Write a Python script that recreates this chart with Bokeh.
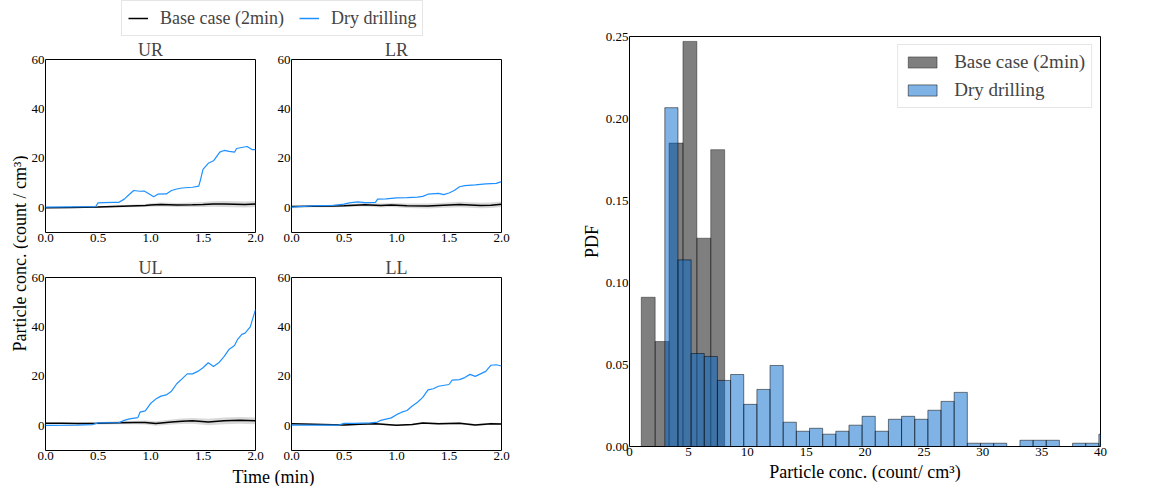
import math
from bokeh.plotting import figure
from bokeh.layouts import row, column
from bokeh.models import (Range1d, FixedTicker, PrintfTickFormatter, Legend,
                          LegendItem, Label)
from bokeh.embed import file_html
from bokeh.resources import INLINE

FONT = "Liberation Serif"
BLUE = "#1E90FF"

# ---------------- time-series data (min, count/cm3) ----------------
ur_base_t = [0, 0.25, 0.5, 0.65, 0.8, 0.95, 1.0, 1.1, 1.25, 1.4, 1.5, 1.6, 1.7, 1.8, 1.9, 2.0]
ur_base_v = [0.0, 0.1, 0.3, 0.5, 0.7, 0.9, 1.1, 1.3, 1.1, 1.2, 1.3, 1.5, 1.5, 1.4, 1.3, 1.5]
ur_base_s = [0.2, 0.2, 0.3, 0.4, 0.5, 0.6, 0.7, 0.8, 0.8, 0.9, 1.0, 1.1, 1.2, 1.2, 1.2, 1.2]
ur_dry_t = [0, 0.2, 0.45, 0.48, 0.5, 0.55, 0.65, 0.7, 0.75, 0.8, 0.84, 0.9, 0.94, 1.0, 1.03,
            1.07, 1.15, 1.2, 1.25, 1.3, 1.4, 1.46, 1.48, 1.5, 1.55, 1.6, 1.66, 1.7, 1.75,
            1.8, 1.82, 1.88, 1.92, 1.97, 2.0]
ur_dry_v = [0.3, 0.4, 0.5, 0.6, 2.0, 2.1, 2.2, 2.2, 3.5, 5.5, 7.0, 6.7, 6.8, 5.3, 4.5,
            5.5, 5.6, 7.0, 7.6, 8.0, 8.3, 8.8, 12.0, 15.5, 18.0, 19.0, 22.5, 23.2, 22.8,
            22.5, 24.0, 24.5, 24.8, 23.5, 23.5]

lr_base_t = [0, 0.2, 0.4, 0.5, 0.6, 0.7, 0.85, 0.95, 1.1, 1.3, 1.45, 1.6, 1.7, 1.8, 1.9, 2.0]
lr_base_v = [0.5, 0.6, 0.7, 0.8, 1.0, 1.2, 0.9, 1.1, 0.8, 0.7, 1.0, 1.3, 1.1, 0.9, 1.0, 1.4]
lr_base_s = [0.3, 0.4, 0.5, 0.5, 0.6, 0.7, 0.8, 0.8, 0.9, 1.0, 1.0, 1.1, 1.1, 1.1, 1.1, 1.1]
lr_dry_t = [0, 0.2, 0.4, 0.5, 0.55, 0.63, 0.7, 0.8, 0.82, 0.9, 1.0, 1.1, 1.2, 1.25, 1.3,
            1.4, 1.45, 1.5, 1.55, 1.6, 1.65, 1.75, 1.85, 1.95, 2.0]
lr_dry_v = [0.3, 0.8, 1.0, 1.5, 2.0, 2.4, 2.1, 2.2, 3.5, 3.6, 4.0, 4.1, 4.3, 4.6, 5.5,
            5.8, 5.3, 6.0, 7.0, 8.5, 9.0, 9.3, 9.7, 9.9, 10.6]

ul_base_t = [0, 0.15, 0.3, 0.5, 0.7, 0.85, 0.95, 1.05, 1.2, 1.3, 1.4, 1.55, 1.7, 1.85, 2.0]
ul_base_v = [1.0, 1.0, 0.9, 1.0, 1.2, 1.3, 1.3, 0.9, 1.5, 1.8, 2.0, 1.5, 2.0, 2.2, 2.0]
ul_base_s = [0.3, 0.3, 0.4, 0.5, 0.6, 0.7, 0.8, 0.9, 1.0, 1.1, 1.2, 1.3, 1.4, 1.4, 1.4]
ul_dry_t = [0, 0.3, 0.45, 0.5, 0.7, 0.75, 0.8, 0.88, 0.9, 0.95, 1.0, 1.05, 1.1, 1.15, 1.2,
            1.25, 1.3, 1.35, 1.4, 1.45, 1.5, 1.55, 1.6, 1.65, 1.7, 1.75, 1.8, 1.83, 1.87,
            1.9, 1.95, 2.0]
ul_dry_v = [0.2, 0.3, 0.5, 1.2, 1.3, 2.2, 2.8, 3.3, 5.5, 6.0, 9.0, 10.8, 12.0, 12.5, 14.0,
            17.0, 19.0, 21.0, 21.0, 22.0, 23.5, 25.5, 24.0, 25.5, 28.0, 31.0, 32.5, 35.0, 37.0,
            37.5, 40.0, 47.0]

ll_base_t = [0, 0.3, 0.5, 0.65, 0.8, 1.0, 1.15, 1.25, 1.4, 1.6, 1.75, 1.9, 2.0]
ll_base_v = [0.8, 0.5, 0.3, 0.6, 0.8, 0.2, 0.5, 1.1, 0.8, 1.0, 0.3, 0.8, 0.7]
ll_base_s = [0.2, 0.2, 0.2, 0.3, 0.3, 0.3, 0.3, 0.4, 0.4, 0.4, 0.4, 0.4, 0.4]
ll_dry_t = [0, 0.45, 0.5, 0.6, 0.75, 0.82, 0.85, 0.95, 1.0, 1.05, 1.1, 1.15, 1.2, 1.25,
            1.3, 1.35, 1.4, 1.5, 1.53, 1.6, 1.65, 1.7, 1.75, 1.8, 1.85, 1.9, 1.95, 2.0]
ll_dry_v = [0.3, 0.3, 1.0, 1.0, 1.2, 1.5, 2.2, 3.2, 4.5, 5.5, 6.2, 8.0, 9.5, 11.5,
            14.5, 15.0, 16.0, 16.7, 18.5, 18.7, 19.5, 20.8, 20.0, 21.0, 22.0, 24.5, 24.7, 24.2]

time_ticks = [0, 0.5, 1.0, 1.5, 2.0]
conc_ticks = [0, 20, 40, 60]

# ---------------- histogram data (PDF) ----------------
base_edges = [1.00, 2.18, 3.36, 4.54, 5.72, 6.90, 8.08]
base_pdf = [0.091, 0.064, 0.185, 0.247, 0.127, 0.181]
dry_edges = [3.000, 4.117, 5.234, 6.351, 7.468, 8.585, 9.702, 10.819, 11.936, 13.053,
             14.170, 15.287, 16.404, 17.521, 18.638, 19.755, 20.872, 21.989, 23.106,
             24.223, 25.340, 26.457, 27.574, 28.691, 29.808, 30.925, 32.042, 33.159,
             34.276, 35.393, 36.510, 37.627, 38.744, 39.861, 40.978]
dry_pdf = [0.2066, 0.1138, 0.0567, 0.0549, 0.0403, 0.0439, 0.0257, 0.0348, 0.0494,
           0.0148, 0.0093, 0.0111, 0.0075, 0.0093, 0.0130, 0.0184, 0.0093, 0.0166,
           0.0184, 0.0166, 0.0221, 0.0275, 0.0330, 0.0020, 0.0020, 0.0020, 0.0,
           0.0038, 0.0038, 0.0038, 0.0, 0.0020, 0.0020, 0.0075]
hist_x_ticks = [0, 5, 10, 15, 20, 25, 30, 35, 40]
hist_y_ticks = [0, 0.05, 0.10, 0.15, 0.20, 0.25]


def style_axes(p, tick_px="13px"):
    p.grid.visible = False
    p.outline_line_color = "black"
    p.outline_line_width = 1
    for ax in (p.xaxis[0], p.yaxis[0]):
        ax.axis_line_color = None
        ax.major_tick_line_color = None
        ax.minor_tick_line_color = None
        ax.major_tick_out = 0
        ax.major_tick_in = 0
        ax.minor_tick_out = 0
        ax.minor_tick_in = 0
        ax.major_label_standoff = 1
        ax.major_label_text_font = FONT
        ax.major_label_text_font_size = tick_px
        ax.major_label_text_color = "black"
        ax.axis_label_text_font = FONT
        ax.axis_label_text_font_style = "normal"
        ax.axis_label_text_font_size = "18px"
        ax.axis_label_text_color = "black"
        ax.axis_label_standoff = 1


def panel(title, bt, bv, bs, dt, dv, bl, br, bb):
    p = figure(frame_width=210, frame_height=173, x_range=Range1d(0, 2),
               y_range=Range1d(-10, 60), output_backend="svg", toolbar_location=None,
               min_border_left=bl, min_border_right=br, min_border_top=19,
               min_border_bottom=bb)
    p.title.text = title
    p.title.align = "center"
    p.title.text_font = FONT
    p.title.text_font_style = "normal"
    p.title.text_font_size = "18px"
    p.title.standoff = 0
    style_axes(p)
    p.xaxis.ticker = FixedTicker(ticks=time_ticks)
    p.xaxis.formatter = PrintfTickFormatter(format="%.1f")
    p.yaxis.ticker = FixedTicker(ticks=conc_ticks)
    p.yaxis.formatter = PrintfTickFormatter(format="%d")
    lo = [v - s for v, s in zip(bv, bs)]
    hi = [v + s for v, s in zip(bv, bs)]
    p.varea(x=bt, y1=lo, y2=hi, fill_color="gray", fill_alpha=0.3)
    p.line(bt, bv, line_color="black", line_width=1.5)
    p.line(dt, dv, line_color=BLUE, line_width=1.2)
    return p


ur = panel("UR", ur_base_t, ur_base_v, ur_base_s, ur_dry_t, ur_dry_v, 15, 18, 23)
lr = panel("LR", lr_base_t, lr_base_v, lr_base_s, lr_dry_t, lr_dry_v, 18, 76, 23)
ul = panel("UL", ul_base_t, ul_base_v, ul_base_s, ul_dry_t, ul_dry_v, 15, 18, 16)
ll = panel("LL", ll_base_t, ll_base_v, ll_base_s, ll_dry_t, ll_dry_v, 18, 76, 16)


def strip(w, h, yr=(0, 1)):
    s = figure(width=w, height=h, x_range=Range1d(0, 1), y_range=Range1d(*yr),
               x_axis_type=None, y_axis_type=None, output_backend="svg",
               toolbar_location=None, min_border=0)
    s.grid.visible = False
    s.outline_line_color = None
    return s


# top legend strip (series drawn out of view; only the legend is visible)
top = strip(577, 37, yr=(200, 201))
r_b = top.line(ur_base_t, ur_base_v, line_color="black", line_width=1.5)
r_d = top.line(ur_dry_t, ur_dry_v, line_color=BLUE, line_width=1.5)
leg_top = Legend(items=[LegendItem(label="Base case (2min)", renderers=[r_b]),
                        LegendItem(label="Dry drilling", renderers=[r_d])],
                 location=(121, 1), orientation="horizontal")
leg_top.label_text_font = FONT
leg_top.label_text_font_size = "18px"
leg_top.glyph_width = 20
leg_top.glyph_height = 20
leg_top.label_height = 22
leg_top.label_standoff = 12
leg_top.spacing = 15
leg_top.padding = 6
leg_top.margin = 0
leg_top.border_line_color = "#cccccc"
leg_top.border_line_width = 1
top.add_layout(leg_top)

# y-label strip
ylab = strip(28, 428)
ylab.add_layout(Label(x=19, y=212, x_units="screen", y_units="screen",
                      text="Particle conc. (count / cm³)", angle=math.pi / 2,
                      text_align="center", text_baseline="middle", text_font=FONT,
                      text_font_size="18px", text_color="black"))

# x-label strip
xlab = strip(577, 21)
xlab.add_layout(Label(x=273, y=11, x_units="screen", y_units="screen",
                      text="Time (min)", text_align="center", text_baseline="middle",
                      text_font=FONT, text_font_size="18px", text_color="black"))

# histogram
h = figure(frame_width=471, frame_height=410, x_range=Range1d(0, 40),
           y_range=Range1d(0, 0.25), output_backend="svg", toolbar_location=None,
           min_border_left=52, min_border_right=58, min_border_top=36,
           min_border_bottom=40)
style_axes(h)
h.xaxis.ticker = FixedTicker(ticks=hist_x_ticks)
h.xaxis.formatter = PrintfTickFormatter(format="%d")
h.yaxis.ticker = FixedTicker(ticks=hist_y_ticks)
h.yaxis.formatter = PrintfTickFormatter(format="%.2f")
h.xaxis.axis_label = "Particle conc. (count/ cm³)"
h.yaxis.axis_label = "PDF"
h.xaxis[0].axis_label_standoff = 3

rb = h.quad(left=base_edges[:-1], right=base_edges[1:], top=base_pdf, bottom=0,
            fill_color="black", fill_alpha=0.5, line_color="black", line_alpha=0.4,
            line_width=1)
rd = h.quad(left=dry_edges[:-1], right=dry_edges[1:], top=dry_pdf, bottom=0,
            fill_color="#0066CC", fill_alpha=0.5, line_color="black", line_alpha=0.5,
            line_width=1)
leg_h = Legend(items=[LegendItem(label="Base case (2min)", renderers=[rb]),
                      LegendItem(label="Dry drilling", renderers=[rd])],
               location="top_right")
leg_h.label_text_font = FONT
leg_h.label_text_font_size = "19px"
leg_h.glyph_width = 36
leg_h.glyph_height = 14
leg_h.label_height = 18
leg_h.label_standoff = 14
leg_h.spacing = 6
leg_h.padding = 6
leg_h.margin = 8
leg_h.border_line_color = "#cccccc"
leg_h.border_line_width = 1
h.add_layout(leg_h)

left = column(top, row(ylab, column(row(ur, lr), row(ul, ll))), xlab)
page = row(left, h)

open("out.html", "w").write(file_html(page, INLINE))
